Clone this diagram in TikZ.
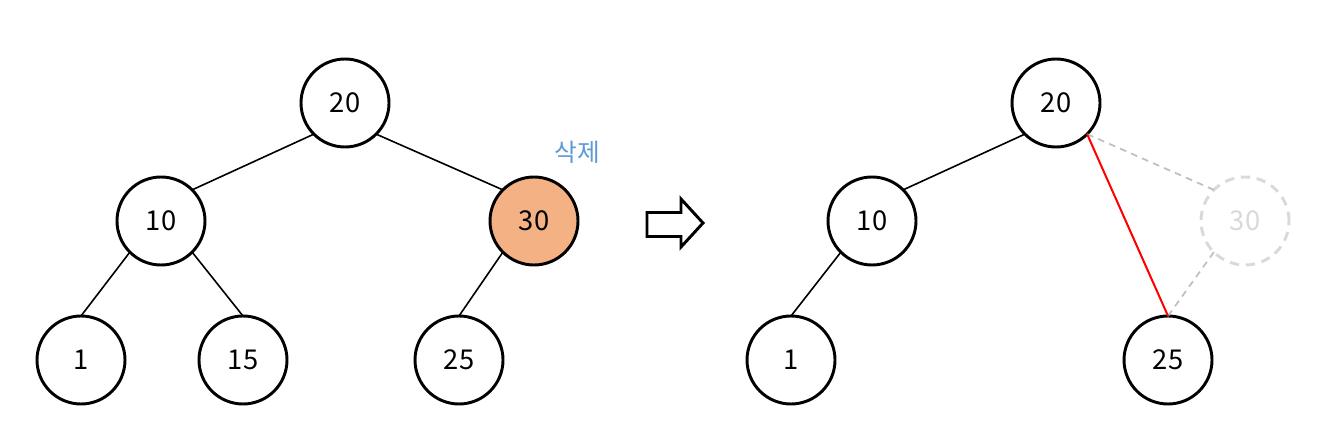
\documentclass[tikz,border=0pt]{standalone}
\usepackage{fontspec}
\setmainfont{Noto Sans CJK KR}
\usetikzlibrary{positioning}
\definecolor{delfill}{HTML}{F4B183}
\definecolor{ghostgray}{HTML}{D9D9D9}
\definecolor{ghostline}{HTML}{BFBFBF}
\definecolor{labelblue}{HTML}{5B9BD5}

\begin{document}
\begin{tikzpicture}[x=0.75pt, y=-0.75pt,
    roundnode/.style={circle, draw=black, line width=2.2pt, minimum size=66pt, inner sep=0pt, outer sep=0pt, font=\fontsize{20.5}{24}\selectfont},
    delnode/.style={roundnode, fill=delfill},
    ghostnode/.style={roundnode, draw=ghostgray, text=ghostgray, dash pattern=on 7pt off 5pt},
    edge/.style={line width=1.2pt}]
        \useasboundingbox (0,0) rectangle (1326,441);

        % before deletion
        \node[roundnode] (node20) at (345,103) {20};
        \node[roundnode] (node10) at (161,221) {10};
        \node[delnode] (node30) at (534,221) {30};
        \node[roundnode] (node1) at (81,360) {1};
        \node[roundnode] (node15) at (243,360) {15};
        \node[roundnode] (node25) at (459,360) {25};
        \node[text=labelblue, font=\fontsize{18.5}{22}\selectfont] (dellabel) at (577,152) {삭제};

        \draw[edge] (node20.-135) -- (node10.45);
        \draw[edge] (node20.-45) -- (node30.135);
        \draw[edge] (node10.-135) -- (node1.north);
        \draw[edge] (node10.-45) -- (node15.north);
        \draw[edge] (node30.-135) -- (node25.north);

        % arrow
        \draw[line width=2.2pt, line join=miter] (647,212.5) -- (681,212.5) -- (681,199) -- (703,223)
            -- (681,247) -- (681,236.5) -- (647,236.5) -- cycle;

        % after deletion
        \node[roundnode] (new20) at (1056,103) {20};
        \node[roundnode] (new10) at (872,221) {10};
        \node[ghostnode] (new30) at (1245,221) {30};
        \node[roundnode] (new1) at (791,360) {1};
        \node[roundnode] (new25) at (1168,360) {25};

        \draw[edge] (new20.-135) -- (new10.45);
        \draw[edge] (new10.-135) -- (new1.north);
        \draw[ghostline, line width=1.3pt, dash pattern=on 5pt off 4pt] (new20.-45) -- (new30.135);
        \draw[ghostline, line width=1.3pt, dash pattern=on 5pt off 4pt] (new30.-135) -- (new25.north);
        \draw[red, line width=1.5pt] (new20.-45) -- (new25.north);
    \end{tikzpicture}
\end{document}
